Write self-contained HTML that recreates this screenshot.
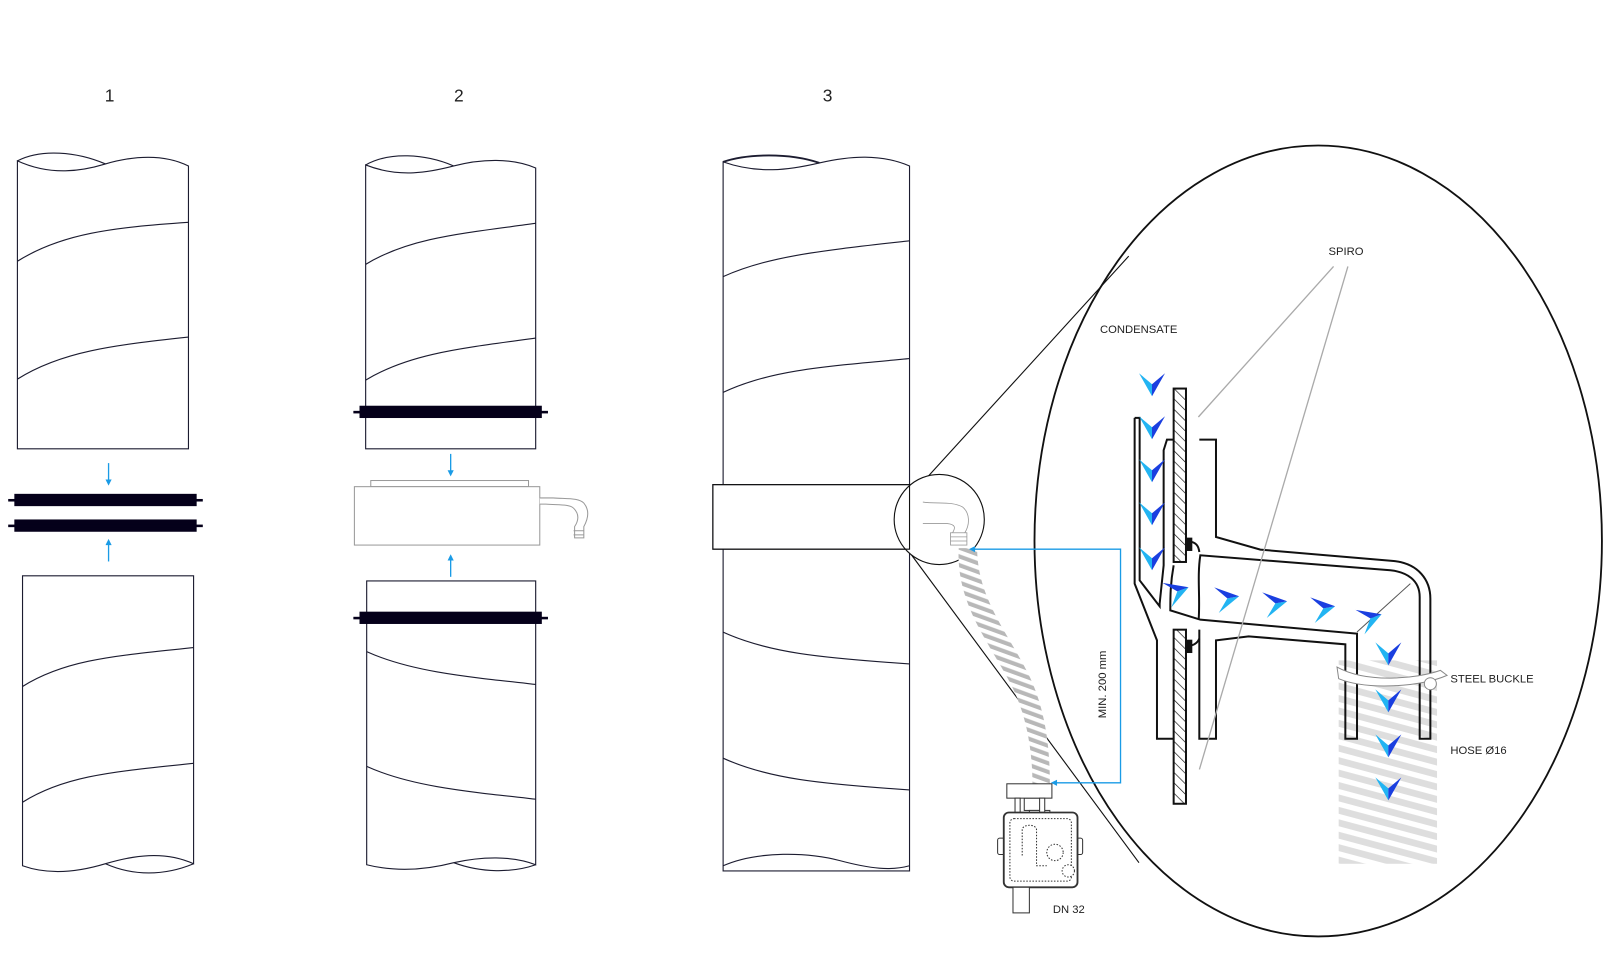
<!DOCTYPE html>
<html><head><meta charset="utf-8"><style>
html,body{margin:0;padding:0;background:#fff;width:1605px;height:959px;overflow:hidden}
svg{display:block}
text{font-family:"Liberation Sans",sans-serif;fill:#222}
</style></head><body>
<svg width="1605" height="959" viewBox="0 0 1567 936" preserveAspectRatio="none" xmlns="http://www.w3.org/2000/svg">
<defs>
<pattern id="hatch" width="22" height="22" patternUnits="userSpaceOnUse" patternTransform="rotate(-45)">
<rect width="22" height="22" fill="#fff"/><line x1="0" y1="0" x2="0" y2="22" stroke="#111" stroke-width="4"/></pattern>
<pattern id="hoseS" width="8" height="8" patternUnits="userSpaceOnUse" patternTransform="rotate(-70)">
<rect width="8" height="8" fill="#fff"/><rect width="4" height="8" fill="#b8b8b8"/></pattern>
<pattern id="bigHose" width="36" height="36" patternUnits="userSpaceOnUse" patternTransform="rotate(-75)">
<rect width="36" height="36" fill="#fff"/><rect width="20" height="36" fill="#dedede"/></pattern>
<g id="chev"><polygon points="-13,-11 0,12 0,0" fill="#22b4f2"/><polygon points="13,-11 0,12 0,0" fill="#1a3fe0"/></g>
</defs>
<text x="107" y="99" font-size="17" text-anchor="middle">1</text>
<text x="448" y="99" font-size="17" text-anchor="middle">2</text>
<text x="808" y="99" font-size="17" text-anchor="middle">3</text>

<g fill="#fff" stroke="#1c1c30" stroke-width="1.1">
<path d="M17,157 V438 H184 V162 C160,150 130,152 103,160 C80,167 50,172 17,157 Z"/>
<path d="M17,157 C40,145 75,148 103,160" fill="none"/>
<path d="M17,255 C60,228 110,222 184,217" fill="none"/>
<path d="M17,370 C60,343 110,337 184,329" fill="none"/>
<path d="M22,562 H189 V843 C160,830 130,835 103,843 C80,850 50,855 22,845 Z"/>
<path d="M103,843 C130,855 160,855 189,843" fill="none"/>
<path d="M22,670 C65,643 115,640 189,632" fill="none"/>
<path d="M22,783 C65,756 115,753 189,745" fill="none"/>
<path d="M357,161 V438 H523 V164 C500,154 470,155 443,162 C420,168 390,174 357,161 Z"/>
<path d="M357,161 C380,148 415,150 443,162" fill="none"/>
<path d="M357,258 C400,232 450,228 523,218" fill="none"/>
<path d="M357,371 C400,345 450,340 523,330" fill="none"/>
<path d="M358,567 H523 V844 C500,835 470,836 443,842 C420,848 390,852 358,844 Z"/>
<path d="M443,842 C470,852 500,852 523,844" fill="none"/>
<path d="M358,636 C400,655 450,660 523,668" fill="none"/>
<path d="M358,748 C400,767 450,772 523,780" fill="none"/>
<path d="M706,158 V850 H888 V162 C860,150 830,152 800,159 C770,166 740,170 706,158 Z"/>
<path d="M706,158 C730,150 770,149 800,159" fill="none" stroke-width="1.8"/>
<path d="M706,845 C740,830 790,832 820,840 C850,848 870,850 888,845" fill="none"/>
<path d="M706,270 C750,250 800,245 888,235" fill="none"/>
<path d="M706,383 C750,362 800,358 888,350" fill="none"/>
<path d="M706,617 C750,637 800,642 888,648" fill="none"/>
<path d="M706,740 C750,760 800,765 888,771" fill="none"/>
<rect x="696" y="473" width="192" height="63"/>
</g>

<g fill="#05001a">
<rect x="14" y="482" width="178" height="12"/><rect x="8" y="487" width="190" height="2.5"/>
<rect x="14" y="507" width="178" height="12"/><rect x="8" y="512" width="190" height="2.5"/>
<rect x="351" y="396" width="178" height="12"/><rect x="345" y="401" width="190" height="2.5"/>
<rect x="351" y="597" width="178" height="12"/><rect x="345" y="602" width="190" height="2.5"/>
</g>
<g stroke="#1a9be6" stroke-width="1.3" fill="#1a9be6">
<line x1="106" y1="452" x2="106" y2="470"/><polygon points="103,468 109,468 106,474" stroke="none"/>
<line x1="106" y1="530" x2="106" y2="548"/><polygon points="103,532 109,532 106,526" stroke="none"/>
<line x1="440" y1="443" x2="440" y2="461"/><polygon points="437,459 443,459 440,465" stroke="none"/>
<line x1="440" y1="545" x2="440" y2="563"/><polygon points="437,547 443,547 440,541" stroke="none"/>
</g>
<g fill="#fff" stroke="#999" stroke-width="1">
<rect x="362" y="469" width="154" height="6"/>
<rect x="346" y="475" width="181" height="57"/>
<path d="M527,492 H533 C545,493 556,492 560,496 C566,502 565,508 561,514 V525 H570 V514 C575,505 575,497 570,491 C565,486 555,487 540,486 H527" fill="#fff"/>
<path d="M560,518 H570 M560,522 H570" />
</g>

<g fill="none" stroke="#111" stroke-width="1.1">
<line x1="897" y1="475" x2="1102" y2="250"/>
<line x1="885" y1="535" x2="1112" y2="842"/>
<circle cx="917" cy="507" r="44" fill="#fff"/>
<rect x="696" y="473" width="192" height="63" fill="none"/>
<ellipse cx="1287" cy="528" rx="277" ry="386" stroke-width="1.8"/>
</g>
<g fill="#fff" stroke="#999" stroke-width="0.8">
<path d="M901,490 C915,492 930,489 940,495 C947,501 947,512 942,520 V528 H930 V520 C933,515 933,512 925,511 H901"/>
<rect x="928" y="520" width="16" height="12"/>
<path d="M928,524 H944 M928,528 H944"/>
</g>

<path d="M936,535 C933,590 968,630 988,670 C1003,700 1008,735 1008,765 L1025,765 C1025,730 1021,695 1006,662 C986,620 954,585 954,535 Z" fill="url(#hoseS)"/>

<g fill="none" stroke="#1a9be6" stroke-width="1.3">
<polyline points="948,536 1094,536 1094,764 1028,764"/>
</g>
<polygon points="946,536 952,533 952,539" fill="#1a9be6"/>
<polygon points="1026,764 1032,761 1032,767" fill="#1a9be6"/>
<text x="1080" y="668" font-size="11" transform="rotate(-90 1080 668)" text-anchor="middle">MIN. 200 mm</text>

<g fill="#fff" stroke="#333" stroke-width="1">
<rect x="1000" y="779" width="18" height="12"/>
<rect x="1005" y="791" width="20" height="8"/>
<rect x="983" y="765" width="44" height="14"/>
<rect x="991" y="779" width="5" height="15"/><rect x="1015" y="779" width="5" height="15"/>
<rect x="974" y="818" width="8" height="16" rx="2"/>
<rect x="1051" y="818" width="6" height="16" rx="2"/>
<rect x="980" y="793" width="72" height="73" rx="5" stroke-width="1.8"/>
<rect x="986" y="799" width="60" height="61" rx="4" stroke-dasharray="1.5 1.5"/>
<path d="M998,835 V810 C998,804 1012,804 1012,810 V845 H1022" stroke-dasharray="1.5 1.5"/>
<circle cx="1030" cy="832" r="8" stroke-dasharray="1.5 1.5"/>
<circle cx="1043" cy="850" r="6" stroke-dasharray="1.5 1.5"/>
<rect x="989" y="866" width="16" height="25"/>
</g>
<text x="1028" y="891" font-size="11">DN 32</text>

<g transform="translate(976.6,341.8) scale(0.3255)">
<rect x="1015" y="930" width="295" height="610" fill="url(#bigHose)"/>
<g fill="none" stroke="#111" stroke-width="6">
<path d="M403,203 H418 V690 L478,768 L478,760 L490,645 L490,300 L500,268 H518"/>
<path d="M403,203 V700 L470,870 V1165 H520"/>
<path d="M520,645 C510,700 510,740 510,780 L600,808 L1070,850 V1165 H1035 V882 L745,858 L647,870 V1165 H597 V838"/>
<path d="M597,268 H647 V560 L780,598 L1180,632 C1255,640 1290,690 1290,745 V1165 H1258 V740 C1258,690 1220,665 1170,660 L600,615 C590,680 600,740 595,808"/>
</g>
<rect x="520" y="115" width="37" height="520" fill="url(#hatch)" stroke="#111" stroke-width="6"/>
<rect x="520" y="838" width="37" height="522" fill="url(#hatch)" stroke="#111" stroke-width="6"/>
<rect x="556" y="562" width="20" height="40" fill="#111"/>
<rect x="556" y="868" width="20" height="40" fill="#111"/>
<path d="M575,575 C590,580 595,590 597,605 M575,885 C590,880 595,870 597,865" stroke="#111" stroke-width="6" fill="none"/>
<line x1="1230" y1="700" x2="1070" y2="845" stroke="#555" stroke-width="3"/>
<path d="M1010,950 C1100,1000 1250,985 1320,960 L1340,975 C1260,1010 1100,1020 1015,985 Z" fill="#fff" stroke="#888" stroke-width="3"/>
<circle cx="1290" cy="1000" r="18" fill="#fff" stroke="#888" stroke-width="3"/>
<g transform="scale(3)">
<use href="#chev" x="151.7" y="34"/>
<use href="#chev" x="151.7" y="77"/>
<use href="#chev" x="151.7" y="120"/>
<use href="#chev" x="151.7" y="163"/>
<use href="#chev" x="151.7" y="208"/>
<use href="#chev" transform="translate(177,241) rotate(-110)"/>
<use href="#chev" transform="translate(227,248) rotate(-100)"/>
<use href="#chev" transform="translate(275,253) rotate(-100)"/>
<use href="#chev" transform="translate(323,258) rotate(-100)"/>
<use href="#chev" transform="translate(370,268) rotate(-110)"/>
<use href="#chev" x="388" y="303"/>
<use href="#chev" x="388" y="350"/>
<use href="#chev" x="388" y="395"/>
<use href="#chev" x="388" y="438"/>
</g>
</g>

<g stroke="#aaa" stroke-width="1.3">
<line x1="1302" y1="260" x2="1170" y2="407"/>
<line x1="1316" y1="260" x2="1171" y2="751"/>
</g>
<g font-size="11">
<text x="1297" y="249">SPIRO</text>
<text x="1074" y="325">CONDENSATE</text>
<text x="1416" y="666">STEEL BUCKLE</text>
<text x="1416" y="736">HOSE Ø16</text>
</g>
</svg>
</body></html>
